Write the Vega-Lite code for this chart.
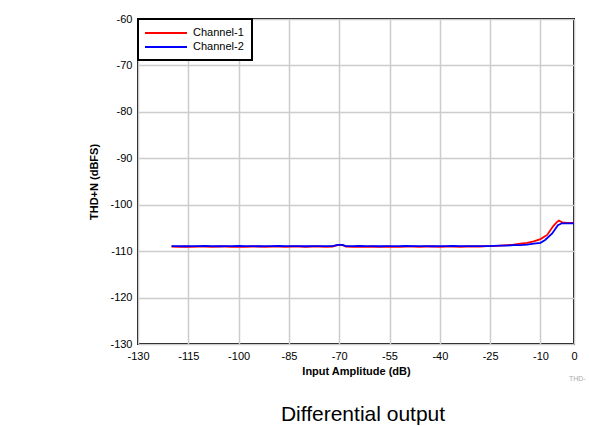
{
  "$schema": "https://vega.github.io/schema/vega-lite/v6.json",
  "width": 436,
  "height": 325,
  "autosize": {"type": "none"},
  "padding": {"left": 138, "top": 19, "right": 15, "bottom": 82},
  "background": "white",
  "config": {
    "font": "Liberation Sans",
    "view": {"stroke": "black", "strokeWidth": 2},
    "axis": {"labelFont": "Liberation Sans", "titleFont": "Liberation Sans", "labelColor": "black", "titleColor": "black", "labelFontSize": 11, "titleFontSize": 11, "titleFontWeight": "bold", "gridColor": "#cccccc", "gridWidth": 1.5, "domain": false, "ticks": false, "labelExpr": "'' + datum.value"}
  },
  "title": {"text": "Differential output", "orient": "bottom", "fontSize": 21, "fontWeight": "normal", "font": "Liberation Sans", "color": "black", "offset": 22, "dx": 7},
  "layer": [
    {
      "data": {"values": [
        {"x": -120, "y": -109.0, "c": "Channel-1"}, {"x": -118, "y": -109.1, "c": "Channel-1"}, {"x": -116, "y": -109.0, "c": "Channel-1"}, {"x": -114, "y": -109.1, "c": "Channel-1"}, {"x": -112, "y": -109.0, "c": "Channel-1"}, {"x": -110, "y": -109.0, "c": "Channel-1"}, {"x": -108, "y": -109.1, "c": "Channel-1"}, {"x": -106, "y": -109.0, "c": "Channel-1"}, {"x": -104, "y": -109.0, "c": "Channel-1"}, {"x": -102, "y": -109.1, "c": "Channel-1"}, {"x": -100, "y": -109.0, "c": "Channel-1"}, {"x": -98, "y": -109.1, "c": "Channel-1"}, {"x": -96, "y": -109.0, "c": "Channel-1"}, {"x": -94, "y": -109.0, "c": "Channel-1"}, {"x": -92, "y": -109.1, "c": "Channel-1"}, {"x": -90, "y": -109.0, "c": "Channel-1"}, {"x": -88, "y": -109.0, "c": "Channel-1"}, {"x": -86, "y": -109.1, "c": "Channel-1"}, {"x": -84, "y": -109.0, "c": "Channel-1"}, {"x": -82, "y": -109.0, "c": "Channel-1"}, {"x": -80, "y": -109.1, "c": "Channel-1"}, {"x": -78, "y": -109.0, "c": "Channel-1"}, {"x": -76, "y": -109.0, "c": "Channel-1"}, {"x": -74, "y": -109.1, "c": "Channel-1"}, {"x": -72, "y": -109.0, "c": "Channel-1"}, {"x": -70.5, "y": -108.7, "c": "Channel-1"}, {"x": -69, "y": -108.7, "c": "Channel-1"}, {"x": -68, "y": -109.0, "c": "Channel-1"}, {"x": -66, "y": -109.1, "c": "Channel-1"}, {"x": -64, "y": -109.0, "c": "Channel-1"}, {"x": -62, "y": -109.1, "c": "Channel-1"}, {"x": -60, "y": -109.0, "c": "Channel-1"}, {"x": -58, "y": -109.1, "c": "Channel-1"}, {"x": -56, "y": -109.0, "c": "Channel-1"}, {"x": -54, "y": -109.1, "c": "Channel-1"}, {"x": -52, "y": -109.1, "c": "Channel-1"}, {"x": -50, "y": -109.0, "c": "Channel-1"}, {"x": -48, "y": -109.0, "c": "Channel-1"}, {"x": -46, "y": -109.1, "c": "Channel-1"}, {"x": -44, "y": -109.0, "c": "Channel-1"}, {"x": -42, "y": -109.0, "c": "Channel-1"}, {"x": -40, "y": -109.1, "c": "Channel-1"}, {"x": -38, "y": -109.0, "c": "Channel-1"}, {"x": -36, "y": -109.0, "c": "Channel-1"}, {"x": -34, "y": -109.1, "c": "Channel-1"}, {"x": -32, "y": -109.0, "c": "Channel-1"}, {"x": -30, "y": -109.0, "c": "Channel-1"}, {"x": -28, "y": -109.0, "c": "Channel-1"}, {"x": -26, "y": -108.9, "c": "Channel-1"}, {"x": -24, "y": -108.9, "c": "Channel-1"}, {"x": -22, "y": -108.8, "c": "Channel-1"}, {"x": -20, "y": -108.7, "c": "Channel-1"}, {"x": -18, "y": -108.6, "c": "Channel-1"}, {"x": -16, "y": -108.4, "c": "Channel-1"}, {"x": -14, "y": -108.2, "c": "Channel-1"}, {"x": -12, "y": -107.9, "c": "Channel-1"}, {"x": -10, "y": -107.4, "c": "Channel-1"}, {"x": -8, "y": -106.5, "c": "Channel-1"}, {"x": -6.3, "y": -104.7, "c": "Channel-1"}, {"x": -5.2, "y": -103.8, "c": "Channel-1"}, {"x": -4.5, "y": -103.4, "c": "Channel-1"}, {"x": -3.6, "y": -103.8, "c": "Channel-1"}, {"x": -2, "y": -103.9, "c": "Channel-1"}, {"x": 0, "y": -103.9, "c": "Channel-1"},
        {"x": -120, "y": -108.9, "c": "Channel-2"}, {"x": -118, "y": -108.9, "c": "Channel-2"}, {"x": -116, "y": -108.95, "c": "Channel-2"}, {"x": -114, "y": -108.9, "c": "Channel-2"}, {"x": -112, "y": -108.9, "c": "Channel-2"}, {"x": -110, "y": -108.85, "c": "Channel-2"}, {"x": -108, "y": -108.9, "c": "Channel-2"}, {"x": -106, "y": -108.95, "c": "Channel-2"}, {"x": -104, "y": -108.9, "c": "Channel-2"}, {"x": -102, "y": -108.9, "c": "Channel-2"}, {"x": -100, "y": -108.85, "c": "Channel-2"}, {"x": -98, "y": -108.9, "c": "Channel-2"}, {"x": -96, "y": -108.9, "c": "Channel-2"}, {"x": -94, "y": -108.95, "c": "Channel-2"}, {"x": -92, "y": -108.9, "c": "Channel-2"}, {"x": -90, "y": -108.9, "c": "Channel-2"}, {"x": -88, "y": -108.85, "c": "Channel-2"}, {"x": -86, "y": -108.9, "c": "Channel-2"}, {"x": -84, "y": -108.9, "c": "Channel-2"}, {"x": -82, "y": -108.9, "c": "Channel-2"}, {"x": -80, "y": -108.95, "c": "Channel-2"}, {"x": -78, "y": -108.9, "c": "Channel-2"}, {"x": -76, "y": -108.9, "c": "Channel-2"}, {"x": -74, "y": -108.9, "c": "Channel-2"}, {"x": -72, "y": -108.9, "c": "Channel-2"}, {"x": -70.5, "y": -108.65, "c": "Channel-2"}, {"x": -69, "y": -108.65, "c": "Channel-2"}, {"x": -68, "y": -108.9, "c": "Channel-2"}, {"x": -66, "y": -108.9, "c": "Channel-2"}, {"x": -64, "y": -108.85, "c": "Channel-2"}, {"x": -62, "y": -108.9, "c": "Channel-2"}, {"x": -60, "y": -108.9, "c": "Channel-2"}, {"x": -58, "y": -108.95, "c": "Channel-2"}, {"x": -56, "y": -108.9, "c": "Channel-2"}, {"x": -54, "y": -108.9, "c": "Channel-2"}, {"x": -52, "y": -108.9, "c": "Channel-2"}, {"x": -50, "y": -108.85, "c": "Channel-2"}, {"x": -48, "y": -108.9, "c": "Channel-2"}, {"x": -46, "y": -108.9, "c": "Channel-2"}, {"x": -44, "y": -108.9, "c": "Channel-2"}, {"x": -42, "y": -108.95, "c": "Channel-2"}, {"x": -40, "y": -108.9, "c": "Channel-2"}, {"x": -38, "y": -108.9, "c": "Channel-2"}, {"x": -36, "y": -108.85, "c": "Channel-2"}, {"x": -34, "y": -108.9, "c": "Channel-2"}, {"x": -32, "y": -108.9, "c": "Channel-2"}, {"x": -30, "y": -108.9, "c": "Channel-2"}, {"x": -28, "y": -108.9, "c": "Channel-2"}, {"x": -26, "y": -108.9, "c": "Channel-2"}, {"x": -24, "y": -108.85, "c": "Channel-2"}, {"x": -22, "y": -108.8, "c": "Channel-2"}, {"x": -20, "y": -108.8, "c": "Channel-2"}, {"x": -18, "y": -108.7, "c": "Channel-2"}, {"x": -16, "y": -108.7, "c": "Channel-2"}, {"x": -14, "y": -108.6, "c": "Channel-2"}, {"x": -12, "y": -108.4, "c": "Channel-2"}, {"x": -10, "y": -108.2, "c": "Channel-2"}, {"x": -8.6, "y": -107.6, "c": "Channel-2"}, {"x": -6.5, "y": -106.2, "c": "Channel-2"}, {"x": -4.8, "y": -104.4, "c": "Channel-2"}, {"x": -3.6, "y": -104.0, "c": "Channel-2"}, {"x": -2, "y": -104.0, "c": "Channel-2"}, {"x": 0, "y": -104.0, "c": "Channel-2"}
      ]},
      "mark": {"type": "line", "strokeWidth": 1.8, "clip": true},
      "encoding": {
        "x": {"field": "x", "type": "quantitative", "scale": {"domain": [-130, 0], "nice": false, "zero": false}, "axis": {"values": [-130, -115, -100, -85, -70, -55, -40, -25, -10, 0], "title": "Input Amplitude (dB)", "labelPadding": 6, "titlePadding": 4, "labelFlush": false}},
        "y": {"field": "y", "type": "quantitative", "scale": {"domain": [-130, -60], "nice": false, "zero": false}, "axis": {"values": [-130, -120, -110, -100, -90, -80, -70, -60], "title": "THD+N (dBFS)", "labelPadding": 6, "titlePadding": 10}},
        "color": {"field": "c", "type": "nominal", "scale": {"domain": ["Channel-1", "Channel-2"], "range": ["#ff0000", "#0000ff"]}, "legend": {"title": null, "orient": "none", "legendX": 0, "legendY": 0, "strokeColor": "black", "fillColor": "white", "padding": 8, "symbolType": "M-1.4,0H7", "symbolSize": 100, "symbolStrokeWidth": 1.8, "labelFontSize": 11, "labelFont": "Liberation Sans", "labelColor": "black", "labelOffset": 35, "rowPadding": 3, "encode": {"legend": {"update": {"strokeWidth": {"value": 2}}}}}}
      }
    },
    {
      "data": {"values": [{"t": "THD-"}]},
      "mark": {"type": "text", "align": "left", "baseline": "middle", "fontSize": 7, "color": "#aaaaaa", "clip": false},
      "encoding": {
        "text": {"field": "t"},
        "x": {"datum": -1.5, "type": "quantitative"},
        "y": {"datum": -137.5, "type": "quantitative"}
      }
    }
  ]
}
